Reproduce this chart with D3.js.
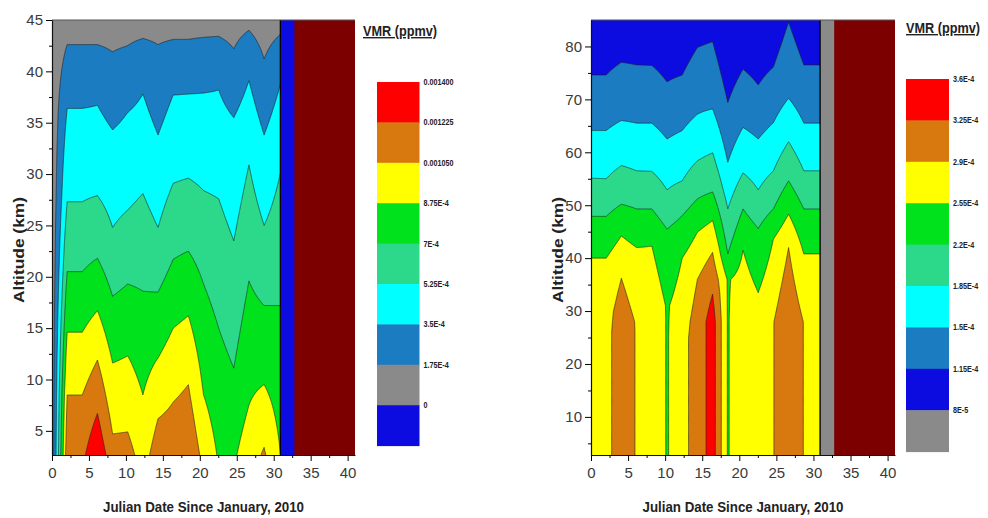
<!DOCTYPE html>
<html>
<head>
<meta charset="utf-8">
<script src="https://cdn.jsdelivr.net/npm/d3@7/dist/d3.min.js"></script>
<style>
    body { margin: 0; background: #fff; }
    svg text { font-family: "Liberation Sans Narrow", "Liberation Sans", Arial, sans-serif; }
</style>
</head>
<body>
<svg id="chart" width="988" height="518"></svg>
<script>

// profile columns (Julian day) shared by both panels
var days = [0, 2.05, 4.1, 6.15, 8.2, 10.25, 12.3, 14.35, 16.4, 18.45, 20.5, 22.55, 24.6, 26.65, 28.7, 30.9];
var dataEnd = 30.9;      // last profile
var fillStart = 32.8;    // start of the no-data block
var dayMax = 41;
var dayTicks = [0, 5, 10, 15, 20, 25, 30, 35, 40];
var dayMinor = [2.5, 7.5, 12.5, 17.5, 22.5, 27.5, 32.5, 37.5];

var RED = '#ff0000', ORANGE = '#d8790f', YELLOW = '#ffff00', GREEN = '#00e31c',
    TEAL = '#2cd98a', CYAN = '#00ffff', STEEL = '#1c7cc2', GRAY = '#8a8a8a',
    BLUE = '#0c0ce0', NODATA = '#7d0000';

// ---- left panel : VMR levels and the altitude (km) where each profile crosses them
var leftLevels = [0, 1.75e-4, 3.5e-4, 5.25e-4, 7e-4, 8.75e-4, 1.05e-3, 1.225e-3];
var leftLabels = ['0.001400', '0.001225', '0.001050', '8.75E-4', '7E-4', '5.25E-4', '3.5E-4', '1.75E-4', '0'];
var leftColors = [BLUE, GRAY, STEEL, CYAN, TEAL, GREEN, YELLOW, ORANGE, RED];
var leftSurface = [0.5e-4, 11.7e-4, 11.9e-4, 13.66e-4, 11.15e-4, 11.07e-4, 9.84e-4, 11.34e-4,
                   11.6e-4, 12.0e-4, 10.0e-4, 8.58e-4, 8.5e-4, 9.75e-4, 10.7e-4, 8.8e-4];
var leftAlt175 = [null, 42.6, 42.6, 42.6, 41.9, 42.5, 43.2, 42.6, 43.1, 43.1, 43.3, 43.4, 42.2, 44.0, 41.2, 43.6];
var leftAlt350 = [null, 36.4, 36.4, 36.7, 34.3, 36.0, 37.8, 33.8, 37.7, 37.8, 37.9, 38.2, 35.5, 39.1, 33.8, 38.7];
var leftAlt525 = [null, 27.3, 27.3, 27.9, 24.8, 26.5, 28.1, 24.8, 29.1, 29.6, 28.4, 27.6, 23.5, 30.9, 25.0, 30.1];
var leftAlt700 = [null, 20.5, 20.5, 21.8, 18.1, 19.3, 18.6, 18.5, 21.7, 22.5, 19.3, 15.0, 11.1, 19.6, 17.2, 17.2];
var leftAlt875 = [null, 14.6, 14.6, 16.7, 11.6, 12.3, 8.5, 12.1, 15.0, 16.2, 8.5, null, null, 7.5, 9.5, 2.8];
var leftAlt1050 = [null, 8.5, 8.5, 11.9, 4.7, 4.9, null, 6.2, 7.8, 9.5, null, null, null, null, 3.4, null];
var leftAlt1225 = [null, null, null, 6.7, null, null, null, null, null, null, null, null, null, null, null, null];
var leftTopStep = [5, 1.0e-4];    // fall-off above the highest crossing (km, ppmv)

// ---- right panel
var rightLevels = [8e-5, 1.15e-4, 1.5e-4, 1.85e-4, 2.2e-4, 2.55e-4, 2.9e-4, 3.25e-4];
var rightLabels = ['3.6E-4', '3.25E-4', '2.9E-4', '2.55E-4', '2.2E-4', '1.85E-4', '1.5E-4', '1.15E-4', '8E-5'];
var rightColors = [GRAY, BLUE, STEEL, CYAN, TEAL, GREEN, YELLOW, ORANGE, RED];
var rightSurface = [2.75e-4, 2.76e-4, 3.15e-4, 2.87e-4, 2.88e-4, 2.52e-4, 2.80e-4, 3.04e-4,
                    3.41e-4, 2.52e-4, 2.85e-4, 2.72e-4, 2.89e-4, 3.20e-4, 2.89e-4, 2.85e-4];
var rightPlateau = [30, 30, 26, 28, 28, 31, 25, 28, 28, 36, 28, 20, 28, 27, 28, 28];
var rightAlt115 = [74.6, 74.6, 77.0, 76.5, 76.4, 73.3, 74.6, 79.8, 80.9, 69.4, 75.7, 72.7, 76.1, 84.6, 76.5, 76.5];
var rightAlt150 = [64.1, 64.1, 66.0, 65.5, 65.5, 62.5, 64.1, 67.2, 68.2, 58.1, 64.7, 62.5, 65.6, 70.2, 65.5, 65.5];
var rightAlt185 = [55.1, 55.0, 57.5, 56.5, 56.4, 52.9, 54.6, 58.4, 59.9, 49.3, 56.1, 52.9, 56.5, 62.0, 56.5, 56.5];
var rightAlt220 = [47.9, 47.9, 50.2, 49.3, 49.3, 45.5, 48.0, 51.2, 52.5, 40.8, 49.3, 45.6, 49.3, 54.6, 49.3, 49.3];
var rightAlt255 = [40.0, 40.0, 44.2, 42.0, 42.3, null, 40.0, 44.9, 47.1, null, 41.5, 33.5, 43.6, 48.3, 40.8, 40.8];
var rightAlt290 = [null, null, 36.2, null, null, null, null, 36.0, 41.1, null, null, null, null, 42.0, null, null];
var rightAlt325 = [null, null, null, null, null, null, null, null, 33.2, null, null, null, null, null, null, null];
var rightTopStep = [10, 0.25e-4];

var gridDx = 0.05;

var svg = d3.select('#chart');

//build a regular grid from the profiles, then let d3 contour it
function buildGrid(p) {

    var profiles = days.map(function (d, i) {
        var v0 = p.surface[i];
        var pts = [[p.yMin, v0]];
        if (p.plateau) {
            pts.push([p.plateau[i], v0]);
        }
        var hi = null;
        p.levels.forEach(function (t, k) {
            var a = p.crossings[k] ? p.crossings[k][i] : null;
            if (a != null && t < v0) {
                pts.push([a, t]);
                if (hi === null || a > hi[0]) { hi = [a, t]; }
            }
        });
        if (hi) {
            pts.push([hi[0] + p.topStep[0], hi[1] - p.topStep[1]]);
        } else {
            pts.push([p.yMax + 10, v0]);   // flat profile
        }
        pts.sort(function (a, b) { return a[0] - b[0]; });
        return d3.scaleLinear()
            .domain(pts.map(function (q) { return q[0]; }))
            .range(pts.map(function (q) { return q[1]; }))
            .clamp(true);
    });

    var nx = Math.round(dataEnd / gridDx) + 1;
    var ny = Math.ceil((p.yMax - p.yMin) / p.dy) + 1;
    var values = new Array(nx * ny);

    for (var j = 0; j < ny; j++) {
        var alt = p.yMin + j * p.dy;
        var row = d3.scaleLinear()
            .domain(days)
            .range(profiles.map(function (f) { return f(alt); }))
            .clamp(true);
        for (var i = 0; i < nx; i++) {
            values[j * nx + i] = row(i * gridDx);
        }
    }
    return {nx : nx, ny : ny, values : values};
}

function drawPanel(p) {

    var xs = d3.scaleLinear().domain([0, dayMax]).range([p.x0, p.x1]);
    var ys = d3.scaleLinear().domain([p.yMin, p.yMax]).range([455, 20]);
    var g = svg.append('g');

    svg.append('defs').append('clipPath')
        .attr('id', p.id + '-clip')
        .append('rect')
            .attr('x', xs(0))
            .attr('y', ys(p.yMax))
            .attr('width', xs(dataEnd) - xs(0))
            .attr('height', ys(p.yMin) - ys(p.yMax));

    // lowest bin shows through past the last profile
    g.append('rect')
        .attr('x', xs(0))
        .attr('y', ys(p.yMax))
        .attr('width', xs(dayMax) - xs(0))
        .attr('height', ys(p.yMin) - ys(p.yMax))
        .attr('fill', p.colors[0]);

    g.append('rect')
        .attr('x', xs(fillStart))
        .attr('y', ys(p.yMax))
        .attr('width', xs(dayMax) - xs(fillStart))
        .attr('height', ys(p.yMin) - ys(p.yMax))
        .attr('fill', NODATA);

    var grid = buildGrid(p);
    var bands = d3.contours()
        .size([grid.nx, grid.ny])
        .thresholds(p.levels)(grid.values);

    var path = d3.geoPath(d3.geoTransform({
        point : function (x, y) {
            this.stream.point(xs((x - 0.5) * gridDx), ys(p.yMin + (y - 0.5) * p.dy));
        }
    }));

    g.append('g')
        .attr('clip-path', 'url(#' + p.id + '-clip)')
        .selectAll('path')
        .data(bands)
        .enter()
        .append('path')
            .attr('d', path)
            .attr('fill', function (d, i) { return p.colors[i + 1]; })
            .attr('stroke', '#1e1e1e')
            .attr('stroke-width', 0.6)
            .attr('stroke-linejoin', 'round');

    g.append('line')
        .attr('x1', xs(dataEnd)).attr('x2', xs(dataEnd))
        .attr('y1', ys(p.yMax)).attr('y2', ys(p.yMin))
        .attr('stroke', '#000')
        .attr('stroke-width', 1.3);

    g.append('line')
        .attr('x1', xs(0)).attr('x2', xs(dayMax))
        .attr('y1', ys(p.yMax)).attr('y2', ys(p.yMax))
        .attr('stroke', '#555')
        .attr('stroke-width', 1);

    // axes
    var xa = g.append('g')
        .attr('transform', 'translate(0,' + ys(p.yMin) + ')')
        .call(d3.axisBottom(xs).tickValues(dayTicks).tickSize(6).tickSizeOuter(0).tickPadding(6));
    g.append('g')
        .attr('transform', 'translate(0,' + ys(p.yMin) + ')')
        .call(d3.axisBottom(xs).tickValues(dayMinor).tickSize(3).tickSizeOuter(0).tickFormat(''))
        .select('.domain').remove();

    var ya = g.append('g')
        .attr('transform', 'translate(' + xs(0) + ',0)')
        .call(d3.axisLeft(ys).tickValues(p.yTicks).tickSize(6).tickSizeOuter(0).tickPadding(3));
    g.append('g')
        .attr('transform', 'translate(' + xs(0) + ',0)')
        .call(d3.axisLeft(ys).tickValues(p.yMinor).tickSize(3).tickSizeOuter(0).tickFormat(''))
        .select('.domain').remove();

    [xa, ya].forEach(function (a) {
        a.selectAll('text')
            .attr('font-family', '"Liberation Sans Narrow", "Liberation Sans", Arial, sans-serif')
            .attr('font-size', 15)
            .attr('fill', '#3a3a3a');
        a.select('.domain').attr('stroke', '#111').attr('stroke-width', 1.2);
    });

    g.append('text')
        .attr('x', (p.x0 + p.x1) / 2)
        .attr('y', 512)
        .attr('text-anchor', 'middle')
        .attr('font-size', 15)
        .attr('font-weight', 'bold')
        .attr('fill', '#222')
        .attr('textLength', 201)
        .attr('lengthAdjust', 'spacingAndGlyphs')
        .text('Julian Date Since January, 2010');

    g.append('text')
        .attr('transform', 'translate(' + p.yTitleX + ',250) rotate(-90)')
        .attr('text-anchor', 'middle')
        .attr('font-size', 15)
        .attr('font-weight', 'bold')
        .attr('fill', '#222')
        .attr('textLength', 106)
        .attr('lengthAdjust', 'spacingAndGlyphs')
        .text('Altitude (km)');

    // legend, highest bin on top
    var lg = svg.append('g');
    var legColors = p.colors.slice().reverse();
    var L = p.legend;

    lg.append('text')
        .attr('x', L.titleX)
        .attr('y', L.titleY)
        .attr('font-size', 14)
        .attr('font-weight', 'bold')
        .attr('fill', '#222')
        .attr('textLength', 74)
        .attr('lengthAdjust', 'spacingAndGlyphs')
        .style('text-decoration', 'underline')
        .text('VMR (ppmv)');

    lg.selectAll('rect')
        .data(legColors)
        .enter()
        .append('rect')
            .attr('x', L.x)
            .attr('y', function (d, i) { return L.y + i * L.h; })
            .attr('width', L.w)
            .attr('height', L.h + 0.5)
            .attr('fill', function (d) { return d; });

    lg.selectAll('.lab')
        .data(p.labels)
        .enter()
        .append('text')
            .attr('class', 'lab')
            .attr('transform', function (d, i) {
                return 'translate(' + (L.x + L.w + 4) + ',' + (L.y + i * L.h + 3) + ') scale(0.8,1)';
            })
            .attr('font-size', 9)
            .attr('font-weight', 'bold')
            .attr('fill', '#222')
            .text(function (d) { return d; });
}

drawPanel({
    id : 'left',
    x0 : 52, x1 : 355,
    yMin : 2.65, yMax : 45, dy : 0.1,
    yTicks : [5, 10, 15, 20, 25, 30, 35, 40, 45],
    yMinor : [7.5, 12.5, 17.5, 22.5, 27.5, 32.5, 37.5, 42.5],
    yTitleX : 24,
    levels : leftLevels,
    labels : leftLabels,
    colors : leftColors,
    surface : leftSurface,
    plateau : null,
    crossings : [null, leftAlt175, leftAlt350, leftAlt525, leftAlt700, leftAlt875, leftAlt1050, leftAlt1225],
    topStep : leftTopStep,
    legend : {x : 377, y : 82, w : 42.5, h : 40.4, titleX : 363, titleY : 36}
});

drawPanel({
    id : 'right',
    x0 : 591, x1 : 895,
    yMin : 2.8, yMax : 85, dy : 0.2,
    yTicks : [10, 20, 30, 40, 50, 60, 70, 80],
    yMinor : [5, 15, 25, 35, 45, 55, 65, 75],
    yTitleX : 563,
    levels : rightLevels,
    labels : rightLabels,
    colors : rightColors,
    surface : rightSurface,
    plateau : rightPlateau,
    crossings : [null, rightAlt115, rightAlt150, rightAlt185, rightAlt220, rightAlt255, rightAlt290, rightAlt325],
    topStep : rightTopStep,
    legend : {x : 906, y : 79, w : 43, h : 41.4, titleX : 906, titleY : 33}
});

</script>
</body>
</html>
